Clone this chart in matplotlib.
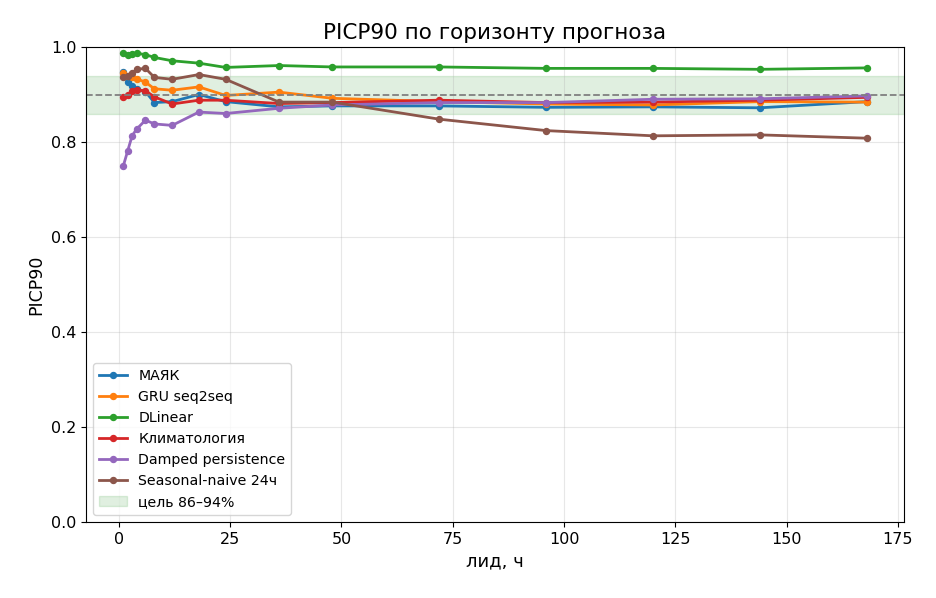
import matplotlib
matplotlib.use("Agg")
import matplotlib.pyplot as plt

leads = [1, 2, 3, 4, 6, 8, 12, 18, 24, 36, 48, 72, 96, 120, 144, 168]

mayak = [0.948, 0.927, 0.917, 0.911, 0.906, 0.883, 0.885, 0.900, 0.885, 0.874, 0.876, 0.876, 0.873, 0.874, 0.872, 0.885]
gru = [0.946, 0.940, 0.936, 0.933, 0.926, 0.912, 0.909, 0.916, 0.898, 0.905, 0.892, 0.885, 0.880, 0.878, 0.885, 0.884]
dlinear = [0.987, 0.983, 0.985, 0.987, 0.984, 0.978, 0.971, 0.966, 0.957, 0.961, 0.958, 0.958, 0.955, 0.955, 0.953, 0.956]
clim = [0.894, 0.899, 0.908, 0.909, 0.908, 0.895, 0.880, 0.888, 0.888, 0.881, 0.883, 0.888, 0.883, 0.884, 0.888, 0.894]
damped = [0.749, 0.781, 0.813, 0.827, 0.846, 0.838, 0.835, 0.863, 0.860, 0.871, 0.878, 0.883, 0.883, 0.890, 0.891, 0.897]
seasonal = [0.936, 0.940, 0.945, 0.953, 0.955, 0.936, 0.932, 0.942, 0.932, 0.884, 0.884, 0.848, 0.824, 0.813, 0.815, 0.808]

series = [
    ("МАЯК", mayak, "#1f77b4"),
    ("GRU seq2seq", gru, "#ff7f0e"),
    ("DLinear", dlinear, "#2ca02c"),
    ("Климатология", clim, "#d62728"),
    ("Damped persistence", damped, "#9467bd"),
    ("Seasonal-naive 24ч", seasonal, "#8c564b"),
]

fig = plt.figure(figsize=(9.36, 5.98), dpi=100)
ax = fig.add_axes([0.0919, 0.1271, 0.8739, 0.7943])

for name, vals, c in series:
    ax.plot(leads, vals, marker="o", markersize=4.3, linewidth=2.0, color=c, label=name)

ax.axhspan(0.86, 0.94, color="green", alpha=0.12, label="цель 86–94%")
ax.axhline(0.90, color="gray", linestyle="--", linewidth=1.3)

ax.set_ylim(0, 1.0)
ax.grid(True, alpha=0.3)
ax.set_title("PICP90 по горизонту прогноза", fontsize=15.5)
ax.set_xlabel("лид, ч", fontsize=13)
ax.set_ylabel("PICP90", fontsize=12.5)
ax.tick_params(labelsize=11.5)
ax.legend(loc="lower left", fontsize=10.2)

fig.savefig("out.png", dpi=100)
